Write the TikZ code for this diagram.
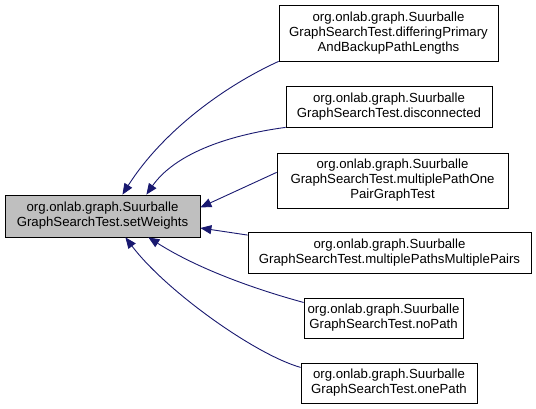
\documentclass[tikz,border=0pt]{standalone}
\usepackage{fontspec}
\setmainfont{Liberation Sans}
\usetikzlibrary{arrows.meta,calc}
\definecolor{edgeblue}{HTML}{191970}

\begin{document}
\begin{tikzpicture}[
	x = 1pt, y = 1pt,
	func/.style={
		draw = black,
		line width = 0.8pt,
		fill = white,
		inner sep = 0pt,
		align = center,
		font = \fontsize{13.2}{15}\selectfont,
	},
	current/.style={
		func,
		fill = gray!50,
	},
	call/.style={
		draw = edgeblue,
		line width = 0.9pt,
		-{Triangle[length=11pt,width=9pt]},
	},
]

	\useasboundingbox (0,0) rectangle (536,409);

	\node[current, minimum width=195pt, minimum height=42pt] (setweights) at (102.5,193) {org.onlab.graph.Suurballe\\GraphSearchTest.setWeights};

	\node[func, minimum width=219pt, minimum height=56pt] (differing) at (388.5,376) {org.onlab.graph.Suurballe\\GraphSearchTest.differingPrimary\\AndBackupPathLengths};
	\node[func, minimum width=206pt, minimum height=41pt] (disconnected) at (389,302.5) {org.onlab.graph.Suurballe\\GraphSearchTest.disconnected};
	\node[func, minimum width=231pt, minimum height=55pt] (onepair) at (392.5,228.5) {org.onlab.graph.Suurballe\\GraphSearchTest.multiplePathOne\\PairGraphTest};
	\node[func, minimum width=283pt, minimum height=41pt] (multipairs) at (389.5,156.5) {org.onlab.graph.Suurballe\\GraphSearchTest.multiplePathsMultiplePairs};
	\node[func, minimum width=159pt, minimum height=40pt] (nopath) at (383.5,91) {org.onlab.graph.Suurballe\\GraphSearchTest.noPath};
	\node[func, minimum width=176pt, minimum height=40pt] (onepath) at (389,26) {org.onlab.graph.Suurballe\\GraphSearchTest.onePath};

	% callers -> setWeights
	\draw[call] (differing.south west) .. controls +(-59,-27) and +(38,60) .. (setweights.47);
	\draw[call] (disconnected.south west) .. controls +(-60,-8) and +(28,40) .. (setweights.26);
	\draw[call] (onepair.176) -- (setweights.5);
	\draw[call] (multipairs.173) -- (setweights.-7);
	\draw[call] (nopath.169) .. controls +(-44,12) and +(52,-33) .. (setweights.-25);
	\draw[call] (onepath.170) .. controls +(-46,13) and +(40,-53) .. (setweights.-43);

\end{tikzpicture}
\end{document}
